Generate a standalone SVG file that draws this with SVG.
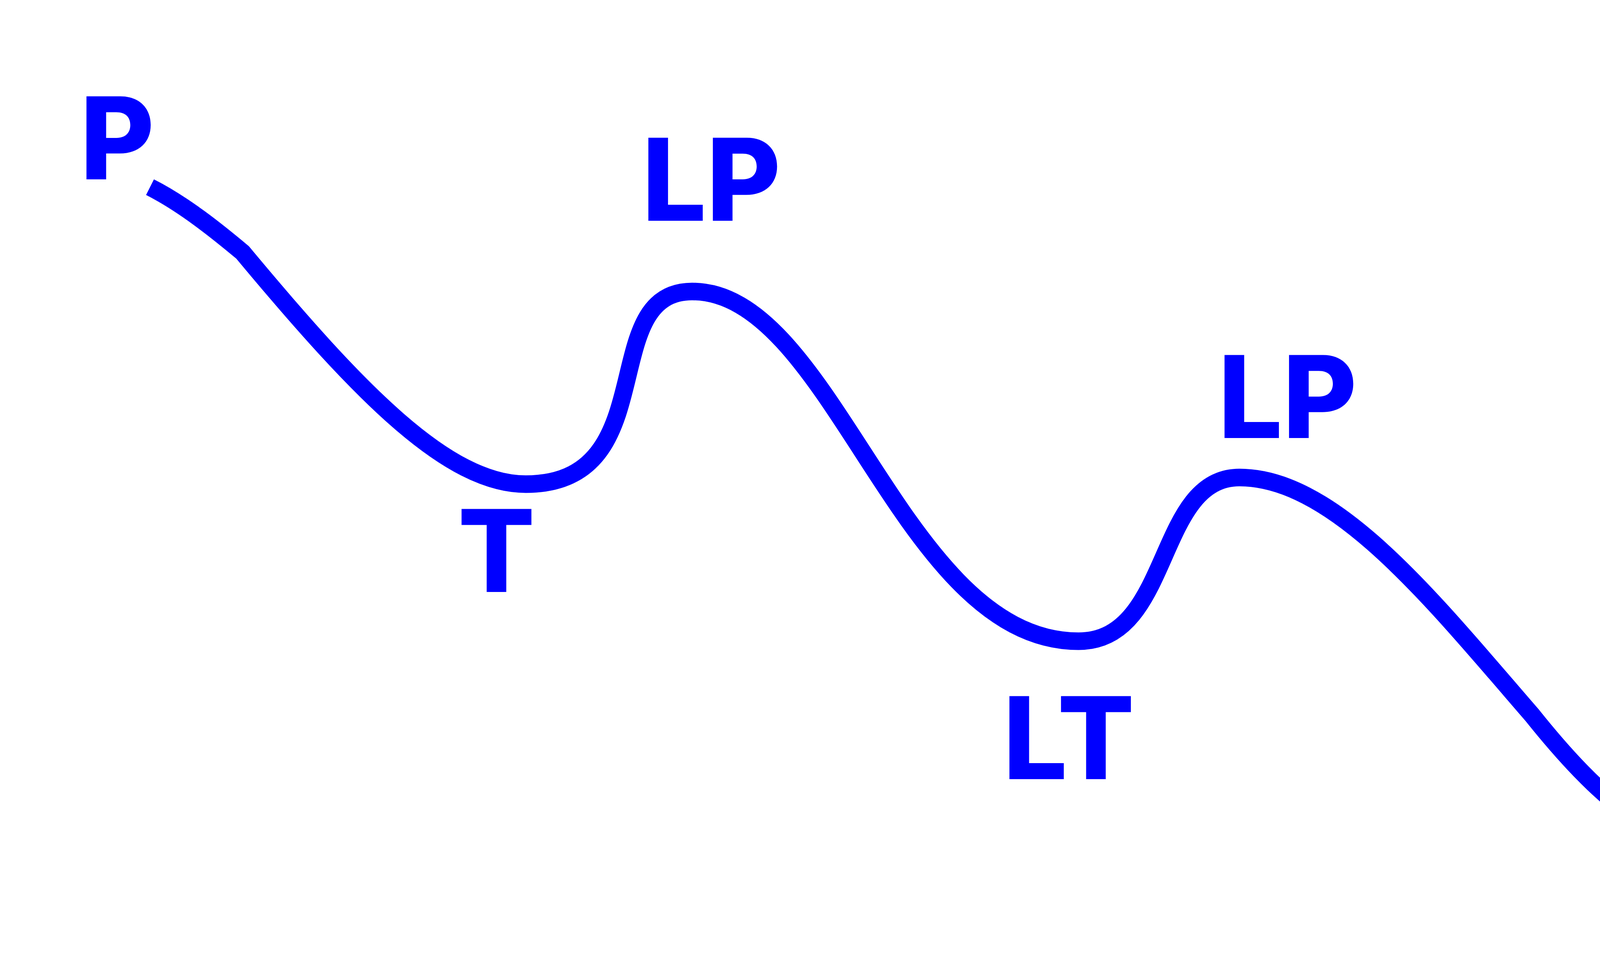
<svg xmlns="http://www.w3.org/2000/svg" width="4599" height="2485" viewBox="0 0 4599 2485">
  <style>
    .lbl { font-family: Inter, "Liberation Sans", sans-serif; font-weight: 800; font-size: 292px; fill: #0000FF; text-anchor: middle; }
    .wave { fill: none; stroke: #0000FF; stroke-width: 45; stroke-linecap: butt; stroke-linejoin: round; }
  </style>
  <rect x="0" y="0" width="4599" height="2485" fill="#FFFFFF"/>
  <g id="connectors">
    <path class="wave" d="M384,479 C470,522 560,595 621,646 C920,1005 1146,1239 1346,1239 C1703,1239 1523,746 1772,746 C2135,746 2307,1641 2761,1641 C3001,1641 2958,1222 3173,1222 C3420,1222 3672,1542 3922,1830 C4002,1930 4085,2021 4175,2086"/>
  </g>
  <g id="label-P">
    <text class="lbl" x="300" y="459">P</text>
  </g>
  <g id="label-LP1">
    <text class="lbl" x="1821" y="565">LP</text>
  </g>
  <g id="label-T">
    <text class="lbl" x="1271" y="1515">T</text>
  </g>
  <g id="label-LT">
    <text class="lbl" x="2736" y="1994">LT</text>
  </g>
  <g id="label-LP2">
    <text class="lbl" x="3296" y="1121">LP</text>
  </g>
</svg>
